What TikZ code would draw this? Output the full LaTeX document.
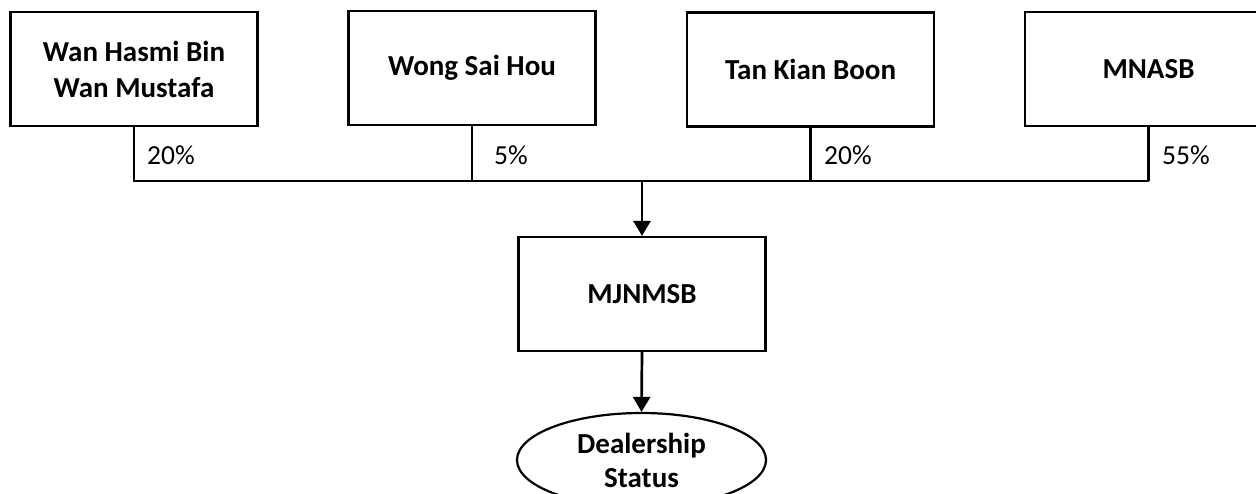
\documentclass[tikz,border=0pt]{standalone}
\usepackage{fontspec}
\setmainfont{Carlito}
\usetikzlibrary{arrows.meta,shapes.geometric}
\begin{document}
\begin{tikzpicture}[x=1pt,y=-1pt,
  box/.style={draw,line width=2.2pt,rectangle,minimum width=247pt,minimum height=114pt,inner sep=0pt,
    align=center,font=\bfseries\fontsize{29}{36}\selectfont},
  oval/.style={draw,line width=2.2pt,ellipse,minimum width=249pt,minimum height=94pt,inner sep=0pt,
    align=center,font=\bfseries\fontsize{29}{34}\selectfont},
  pct/.style={anchor=west,inner sep=0pt,font=\fontsize{27.5}{33}\selectfont},
  link/.style={line width=2.3pt},
  arr/.style={line width=2.7pt,-{Triangle[length=15pt,width=17pt]}}]
\useasboundingbox (0,0) rectangle (1256,494);
\node[box] (b1) at (134,69) {Wan Hasmi Bin\\Wan Mustafa};
\node[box] (b2) at (472,68) {Wong Sai Hou};
\node[box] (b3) at (810.5,69.5) {Tan Kian Boon};
\node[box] (b4) at (1148.5,69) {MNASB};
\node[box] (m) at (642,294) {MJNMSB};
\node[oval] (d) at (641.5,460) {Dealership\\Status};
\coordinate (j) at (642,181);
\draw[link] (b1.south) |- (b4.south |- j);
\draw[link] (b2.south) -- (b2.south |- j);
\draw[link] (b3.south) -- (b3.south |- j);
\draw[link] (b4.south) -- (b4.south |- j);
\draw[arr] (j) -- (m.north);
\draw[arr] (m.south) -- (d.north);
\node[pct] (p1) at (147,155) {20\%};
\node[pct] (p2) at (494,155) {5\%};
\node[pct] (p3) at (824,155) {20\%};
\node[pct] (p4) at (1162,155) {55\%};
\end{tikzpicture}
\end{document}
